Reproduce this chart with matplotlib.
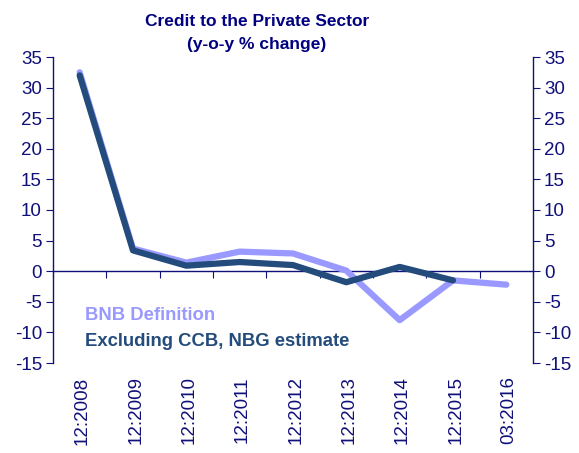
import numpy as np
import matplotlib
matplotlib.use('Agg')
import matplotlib.pyplot as plt

plt.rcParams['font.family'] = ['Liberation Sans', 'DejaVu Sans']
plt.rcParams['axes.unicode_minus'] = False

categories = ['12:2008', '12:2009', '12:2010', '12:2011', '12:2012',
              '12:2013', '12:2014', '12:2015', '03:2016']
bnb = [32.5, 3.7, 1.4, 3.2, 2.9, 0.1, -8.0, -1.5, -2.2]
excl_ccb = [32.0, 3.4, 0.9, 1.5, 1.0, -1.8, 0.7, -1.5, np.nan]

navy = '#10107a'
light = '#9999ff'
dark = '#234b7b'

fig = plt.figure(figsize=(5.79, 4.53), dpi=100)
ax = fig.add_axes([53/579, 1-363/453, 480/579, 306/453])

x = np.arange(len(categories))
ax.plot(x, bnb, color=light, lw=4.5, solid_capstyle='round', solid_joinstyle='round', zorder=3)
ax.plot(x, excl_ccb, color=dark, lw=4.5, solid_capstyle='round', solid_joinstyle='round', zorder=4)

ax.set_xlim(-0.5, len(categories) - 0.5)
ax.set_ylim(-15, 35)
ax.set_yticks(np.arange(-15, 36, 5))

ax.spines['top'].set_visible(False)
ax.spines['bottom'].set_position(('data', 0))
for s in ['bottom', 'left', 'right']:
    ax.spines[s].set_color(navy)
    ax.spines[s].set_linewidth(1)

ax.set_xticks(np.arange(-0.5, len(categories), 1))
ax.set_xticklabels([])
ax.tick_params(axis='x', direction='out', length=5, color=navy)
ax.tick_params(axis='y', direction='out', length=5, color=navy, labelcolor=navy,
               labelsize=13.5, left=True, right=True, labelleft=True, labelright=True, pad=3)

for i, c in enumerate(categories):
    ax.text(i + 0.05, -17.2, c, rotation=90, ha='center', va='top',
            fontsize=13.5, color=navy)

fig.text(257/579, 1-33/453, 'Credit to the Private Sector\n(y-o-y % change)',
         ha='center', va='center', fontsize=12.5, fontweight='bold', color='#000080',
         linespacing=1.6)

ax.text(32/480, (363-316)/306, 'BNB Definition', transform=ax.transAxes, fontsize=13.3,
        fontweight='bold', color=light, va='center')
ax.text(32/480, (363-342)/306, 'Excluding CCB, NBG estimate', transform=ax.transAxes,
        fontsize=13.3, fontweight='bold', color=dark, va='center')

fig.savefig('out.png', dpi=100)
